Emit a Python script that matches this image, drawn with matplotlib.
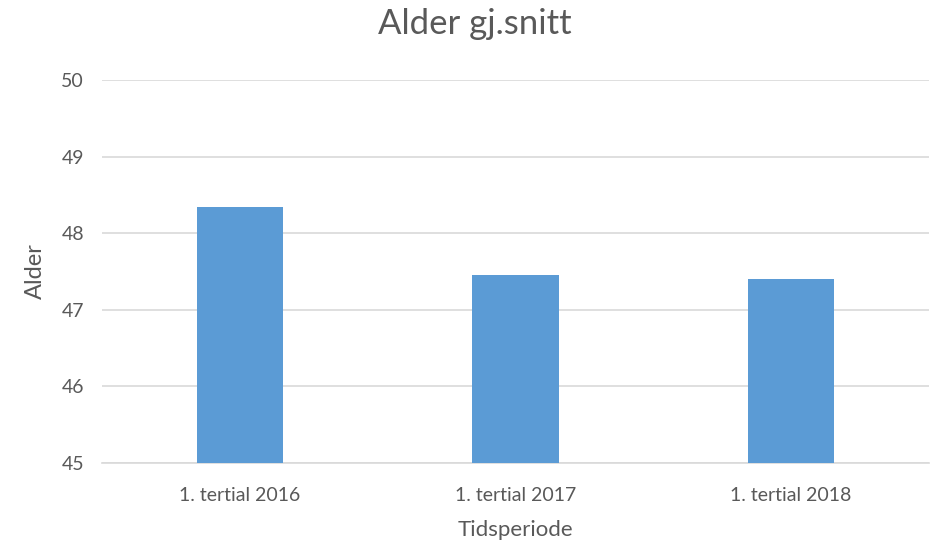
import matplotlib
matplotlib.use("Agg")
import matplotlib.pyplot as plt

categories = ["1. tertial 2016", "1. tertial 2017", "1. tertial 2018"]
values = [48.34, 47.45, 47.40]
yticks = [45, 46, 47, 48, 49, 50]

plt.rcParams['font.family'] = ['Lato', 'DejaVu Sans']
text_color = "#595959"

fig = plt.figure(figsize=(9.3, 5.47), dpi=100)
ax = fig.add_axes([102 / 930, 1 - 463 / 547, 827 / 930, 383 / 547])
x = range(len(categories))
ax.bar(x, values, width=0.312, color="#5B9BD5", zorder=3)
ax.set_ylim(45, 50)
ax.set_xlim(-0.5, len(categories) - 0.5)
ax.set_yticks(yticks)
ax.set_xticks(list(x))
ax.set_xticklabels(categories)
ax.grid(axis="y", color="#D9D9D9", linewidth=1.2, zorder=0)
for s in ["top", "right", "left"]:
    ax.spines[s].set_visible(False)
ax.spines["bottom"].set_color("#D9D9D9")
ax.spines["bottom"].set_linewidth(1.2)
ax.tick_params(axis="both", length=0, colors=text_color, labelsize=14)
ax.tick_params(axis="y", pad=13)
ax.tick_params(axis="x", pad=17)
ax.set_xlabel("Tidsperiode", fontsize=16, color=text_color, labelpad=12)
ax.set_ylabel("Alder", fontsize=17, color=text_color, labelpad=11)
fig.text(0.511, 0.956, "Alder gj.snitt", ha="center", va="center", fontsize=25, color=text_color)
fig.savefig("out.png", dpi=100)
